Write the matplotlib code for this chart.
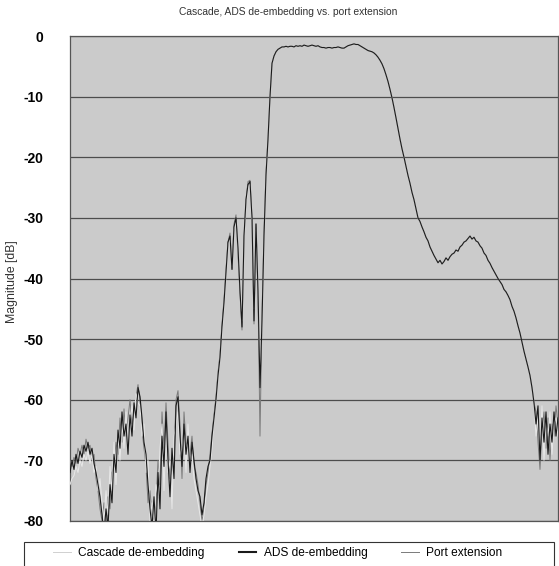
import numpy as np
import matplotlib
matplotlib.use("Agg")
import matplotlib.pyplot as plt
from matplotlib.patches import Rectangle

plt.rcParams["font.family"] = ["Liberation Sans", "DejaVu Sans"]
plt.rcParams["axes.unicode_minus"] = False

# frequency grid (arbitrary units, no x labels in the original)
freq = np.arange(245)

# noisy stop band on the left + spurious peaks, one list per method
ads_left = [-72, -70, -71.5, -69, -70.5, -68.5, -69.5, -67.5, -68.5, -67,
            -69, -68, -70.5, -72, -74, -76, -79, -82, -78, -81,
            -74, -77, -69, -72, -65, -68, -62, -66, -64, -69,
            -62.5, -66, -60.5, -63, -58, -59.5, -63, -67, -69, -74,
            -78, -81, -76, -82, -72, -78, -66, -71, -62, -70,
            -76, -68, -73, -61, -59.5, -66, -71, -64, -69, -66,
            -72, -67, -70, -73, -75, -76, -79, -77, -73, -71,
            -70, -66, -63, -60, -56, -53, -48, -44, -39, -34,
            -33, -38.5, -31.5, -30, -35, -42, -48, -33, -27, -24.5,
            -24, -30, -47, -31, -42, -58, -47, -33, -23, -17]
cascade_left = [-74, -73, -72.5, -71, -72, -70, -71, -69, -70, -68.5,
                -70.5, -69, -72, -71, -75, -73, -77, -80, -75, -79,
                -71, -75, -67, -74, -66, -70, -64, -68, -62, -67,
                -64, -61, -65, -59, -60.5, -61, -66, -64, -72, -70,
                -80, -77, -82, -74, -76, -68, -64, -75, -65, -72,
                -70, -78, -66, -64, -62, -69, -68, -66, -72, -64,
                -70, -69, -73, -75, -77, -79, -81, -79, -76, -74,
                -71, -68, -63, -60.5, -56, -53, -49, -44.5, -39.5, -34.5,
                -33.5, -38, -32, -30.5, -35.5, -41, -47, -34, -27.5, -25,
                -24.5, -31, -45, -32, -41, -55, -48, -34, -23.5, -17]
port_left = [-70, -71, -69.5, -70.5, -68, -69, -67.5, -69, -66.5, -68,
             -67.5, -70, -69, -73, -75, -78, -80, -77, -83, -76,
             -78, -72, -71, -67, -69, -63, -67, -61.5, -66, -63,
             -60, -64, -62, -59.5, -57.5, -60, -65, -68, -71, -77,
             -75, -79, -80, -77, -70, -74, -62, -68, -60.5, -67,
             -73, -71, -69, -60, -58.5, -64, -73, -62, -67, -68,
             -69, -66, -71, -72, -74, -77, -80, -78, -74, -72,
             -69, -65.5, -62.5, -59.5, -55.5, -52.5, -47.5, -43.5, -38.5, -34,
             -32.5, -38.5, -31, -29.5, -36, -42.5, -48.5, -33.5, -27, -24,
             -23.8, -30, -47.5, -31, -42.5, -66, -46, -32.5, -22.5, -17]

# pass band and upper skirt (the three methods overlap here)
passband = [-10, -4.5, -3.3, -2.6, -2.2, -2.0, -1.8, -1.8, -1.7, -1.8,
            -1.7, -1.7, -1.8, -1.6, -1.7, -1.6, -1.7, -1.5, -1.6, -1.7,
            -1.6, -1.5, -1.6, -1.7, -1.6, -1.8, -1.9, -1.9, -2.0, -1.9,
            -1.9, -2.0, -1.9, -1.9, -1.8, -1.9, -2.0, -2.0, -1.8, -1.6,
            -1.5, -1.4, -1.3, -1.4, -1.4, -1.6, -1.8, -2.0, -2.2, -2.4,
            -2.5, -2.6, -2.8, -3.1, -3.5, -4.0, -4.6, -5.4, -6.4, -7.5,
            -8.8, -10.2, -11.8, -13.5, -15.3, -17.0, -18.6, -20.0, -21.5, -23.0,
            -24.3, -25.8, -27.0, -28.5, -30.0, -30.6, -31.5, -32.3, -33.2, -33.8,
            -34.8, -35.5, -36.2, -36.8, -37.4, -37.0, -37.6, -37.2, -36.6, -37.0,
            -36.4, -36.0, -35.8, -35.3, -35.5, -34.8, -34.5, -34.0, -33.8, -33.4,
            -33.0, -33.5, -33.2, -33.8, -34.0, -34.6, -35.0, -35.8, -36.2, -37.0,
            -37.5, -38.2, -38.8, -39.4, -40.0, -40.5, -41.0, -41.8, -42.2, -42.8,
            -43.5, -44.6, -45.4, -46.5, -47.8, -49.0, -50.5, -52.0, -53.3, -54.6,
            -56.0, -58.0, -60.5]

# noisy stop band on the right
ads_right = [-64, -61, -70, -63, -67, -62, -69, -64, -67, -62, -66, -63]
cascade_right = [-66, -63, -68, -61, -70, -64, -66, -62, -69, -64, -63, -66]
port_right = [-62, -67, -71.5, -65, -62, -68, -63, -70, -64, -66, -61, -64]

ads = ads_left + passband + ads_right
cascade = cascade_left + passband + cascade_right
port = port_left + passband + port_right

fig = plt.figure(figsize=(5.59, 5.66), dpi=100)
ax = fig.add_axes([70 / 559, 1 - 521 / 566, 488 / 559, 485 / 566])
ax.set_facecolor("#cbcbcb")

ax.plot(freq, port, color="#7a7a7a", lw=0.7, label="Port extension", zorder=3)
ax.plot(freq, cascade, color="#e8e8e8", lw=0.7, label="Cascade de-embedding", zorder=4)
ax.plot(freq, ads, color="#1a1a1a", lw=0.8, label="ADS de-embedding", zorder=5)

ax.set_xlim(0, 244)
ax.set_ylim(-80, 0)
ax.set_yticks(range(-80, 1, 10))
ax.set_xticks([])
ax.grid(axis="y", color="#4d4d4d", lw=0.9)
ax.set_axisbelow(True)
ax.tick_params(axis="y", length=0, pad=19, labelsize=10)
for lab in ax.get_yticklabels():
    lab.set_fontweight("bold")
for s in ax.spines.values():
    s.set_color("#555555")
    s.set_linewidth(0.9)

fig.text(288 / 559, 1 - 12 / 566, "Cascade, ADS de-embedding vs. port extension",
         ha="center", va="center", fontsize=7.4, color="#333333")
fig.text(12 / 559, 1 - 282 / 566, "Magnitude [dB]", rotation=90,
         ha="center", va="center", fontsize=8.8, color="#333333")

# legend box (runs off the bottom of the picture)
fig.patches.append(Rectangle((24 / 559, -0.02), 530 / 559, 1 - 542 / 566 + 0.02,
                             transform=fig.transFigure, fill=False,
                             edgecolor="#333333", lw=0.8))
h, l = ax.get_legend_handles_labels()
order = [1, 2, 0]
leg = fig.legend([h[i] for i in order], [l[i] for i in order], ncol=3,
                 loc="center left", borderaxespad=0, borderpad=0,
                 bbox_to_anchor=(53 / 559, 1 - 553 / 566),
                 frameon=False, fontsize=8.6, handlelength=1.5,
                 handletextpad=0.6, columnspacing=2.85)
leg.legend_handles[0].set_color("#d0d0d0")
leg.legend_handles[1].set_linewidth(1.5)

fig.savefig("out.png", dpi=100)
